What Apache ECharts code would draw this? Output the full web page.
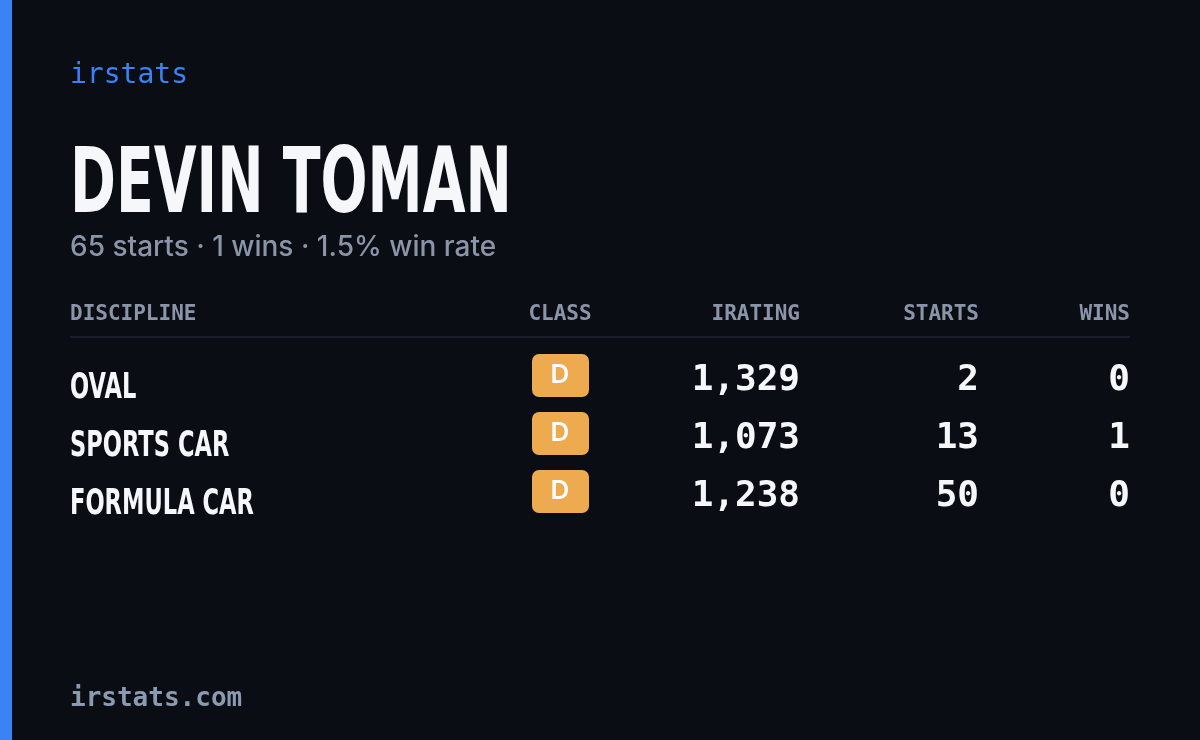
<!DOCTYPE html>
<html><head><meta charset="utf-8">
<script src="https://cdn.jsdelivr.net/npm/echarts@6/dist/echarts.min.js"></script>
<style>html,body{margin:0;padding:0;background:#0a0d14}#main{width:1200px;height:740px}</style>
</head><body><div id="main"></div>
<script>
// 数据
var driverName = 'DEVIN TOMAN';
var summary = '65 starts · 1 wins · 1.5% win rate';
var headers = ['DISCIPLINE', 'CLASS', 'IRATING', 'STARTS', 'WINS'];
var disciplines = ['OVAL', 'SPORTS CAR', 'FORMULA CAR'];
var classes = ['D', 'D', 'D'];
var iratings = [1329, 1073, 1238];
var starts = [2, 13, 50];
var wins = [0, 1, 0];

var mono = '"DejaVu Sans Mono", monospace';
var narrow = '"DejaVu Sans", sans-serif';
var sans = 'Inter, "Noto Sans", sans-serif';

var chart = echarts.init(document.getElementById('main'));
var els = [
    {type: 'rect', shape: {x: 0, y: 0, width: 1200, height: 740}, style: {fill: '#0a0d14'}},
    {type: 'rect', shape: {x: 0, y: 0, width: 12, height: 740}, style: {fill: '#3b82f6'}},
    {type: 'text', x: 70, y: 90, style: {text: 'irstats', font: '28px ' + mono, fill: '#3b82f6', textVerticalAlign: 'bottom'}},
    // 窄体标题 (用横向缩放模拟)
    {type: 'text', x: 70, y: 234, scaleX: 0.615, style: {text: driverName, font: 'bold 90px ' + narrow, fill: '#f5f7fb', textVerticalAlign: 'bottom'}},
    {type: 'text', x: 70, y: 262, style: {text: summary, font: '500 28px ' + sans, fill: '#8b95a8', textVerticalAlign: 'bottom'}},
    {type: 'rect', shape: {x: 70, y: 336, width: 1060, height: 2}, style: {fill: '#1a1e29'}},
    {type: 'text', x: 70, y: 712, style: {text: 'irstats.com', font: 'bold 26px ' + mono, fill: '#8b9ab0', textVerticalAlign: 'bottom'}}
];
// 表头
var colX = [70, 560, 800, 979, 1130];
var colAlign = ['left', 'center', 'right', 'right', 'right'];
headers.forEach(function (h, i) {
    els.push({type: 'text', x: colX[i], y: 325, style: {text: h, font: 'bold 21px ' + mono, fill: '#8b95a8', textAlign: colAlign[i], textVerticalAlign: 'bottom'}});
});
// 行
disciplines.forEach(function (d, i) {
    var top = 354 + i * 58;
    els.push({type: 'text', x: 70, y: top + 52, scaleX: 0.645, style: {text: d, font: 'bold 35px ' + narrow, fill: '#f5f7fb', textVerticalAlign: 'bottom'}});
    els.push({type: 'rect', shape: {x: 532, y: top, width: 57, height: 43, r: 7}, style: {fill: '#eeaa4f'}});
    els.push({type: 'text', x: 560, y: top + 21, style: {text: classes[i], font: '600 26px ' + sans, fill: '#ffffff', textAlign: 'center', textVerticalAlign: 'middle'}});
    var vals = [iratings[i].toLocaleString('en-US'), String(starts[i]), String(wins[i])];
    vals.forEach(function (v, j) {
        els.push({type: 'text', x: colX[j + 2], y: top + 45, style: {text: v, font: 'bold 36px ' + mono, fill: '#f5f7fb', textAlign: 'right', textVerticalAlign: 'bottom'}});
    });
});
chart.setOption({backgroundColor: '#0a0d14', graphic: {elements: els}});
</script></body></html>
